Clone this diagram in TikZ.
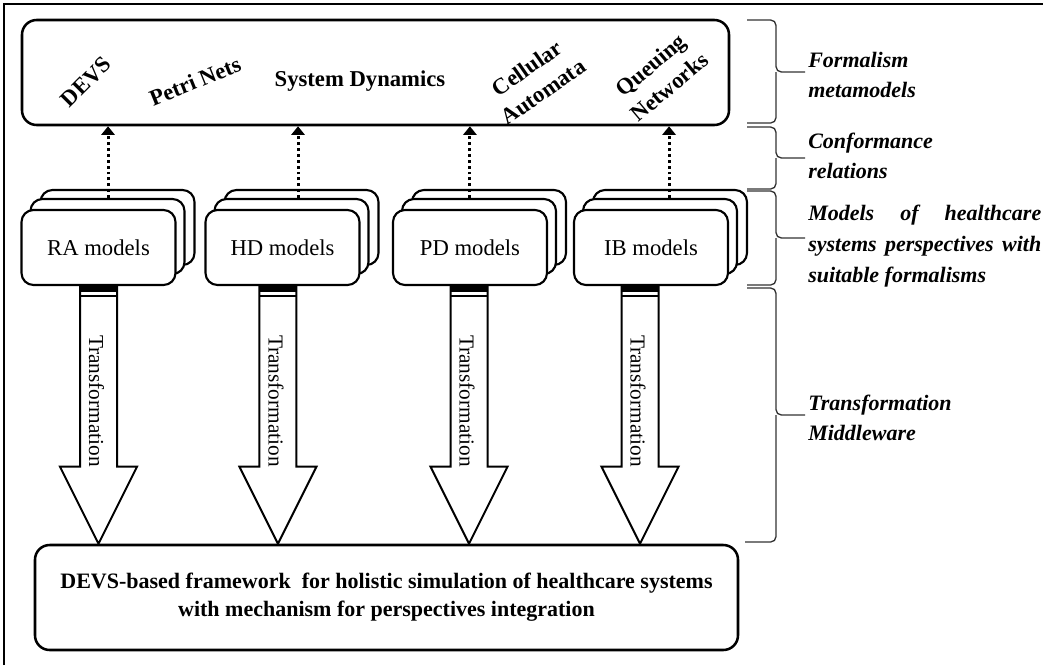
\documentclass[tikz,border=0pt]{standalone}
\usepackage{fontspec}
\setmainfont{Liberation Serif}
\usetikzlibrary{arrows.meta,calc}
\hbadness=10000
\begin{document}
\begin{tikzpicture}[x=0.75pt,y=-0.75pt,
  bigbox/.style={draw, line width=1.9pt, rounded corners=11pt, fill=white, inner sep=0pt},
  stackbox/.style={draw, line width=1.6pt, rounded corners=9pt, fill=white, inner sep=0pt,
    minimum width=154*0.75pt, minimum height=75*0.75pt,
    font=\fontsize{17}{20}\selectfont},
  formal/.style={font=\fontsize{17}{21.5}\selectfont\bfseries, align=center, inner sep=0pt},
  sidelab/.style={font=\fontsize{16.5}{23}\selectfont\bfseries\itshape, align=left, inner sep=0pt, anchor=west},
  bracestyle/.style={draw=black!80, line width=1pt, rounded corners=4pt},
  dotarrow/.style={line width=2.2pt, dash pattern=on 2.2pt off 2.2pt, -{Triangle[width=10pt,length=6.5pt]}},
  tarrow/.style={draw, line width=1.5pt, fill=white, line join=miter},
  trtext/.style={rotate=-90, font=\fontsize{16}{18}\selectfont, inner sep=0pt}
]
\useasboundingbox (0,0) rectangle (1043,665);
% frame
\draw[line width=2.2pt] (4,665) -- (4,4) -- (1043,4);

% top box
\node[bigbox, minimum width=707*0.75pt, minimum height=105*0.75pt] (top) at (375.5,72.5) {};
\node[formal, rotate=45] (devs) at (86,82) {DEVS};
\node[formal, rotate=22] (petri) at (195,81) {Petri Nets};
\node[formal] (sd) at (360,81) {System Dynamics};
\node[formal, rotate=35] (ca) at (535,80) {Cellular\\Automata};
\node[formal, rotate=40] (qn) at (660,76) {Queuing\\Networks};

% model stacks
\foreach \nm/\cx/\lab in {ra/98.5/RA models, hd/282.5/HD models, pd/470/PD models, ib/651/IB models}{
  \node[stackbox] (\nm3) at (\cx+19,227.5) {};
  \node[stackbox] (\nm2) at (\cx+9,236.5) {};
  \node[stackbox] (\nm1) at (\cx,247.5) {\lab};
}

% conformance arrows
\coordinate (ra-d) at ([xshift=0.4pt]ra2.north);
\coordinate (hd-d) at ([xshift=4.9pt]hd2.north);
\coordinate (pd-d) at ([xshift=-6.8pt]pd2.north);
\coordinate (ib-d) at ([xshift=6.8pt]ib2.north);
\foreach \nm in {ra,hd,pd,ib}{
  \draw[dotarrow] (\nm-d) -- (\nm-d |- top.south);
}

% bottom box
\node[bigbox, minimum width=703*0.75pt, minimum height=105*0.75pt,
  font=\fontsize{16.5}{21}\selectfont\bfseries, align=center] (bottom) at (386.5,597.5)
  {DEVS-based framework\ \ for holistic simulation of healthcare systems\\with mechanism for perspectives integration};

% transformation arrows
\coordinate (ra-o) at (ra1.south);
\coordinate (hd-o) at ([xshift=-3.4pt]hd1.south);
\coordinate (pd-o) at ([xshift=-0.75pt]pd1.south);
\coordinate (ib-o) at ([xshift=-8.25pt]ib1.south);
\foreach \nm in {ra,hd,pd,ib}{
  \coordinate (\nm-e) at (\nm-o |- bottom.north);
  \draw[tarrow] ($(\nm-o)+(-18.5,0)$) -- ($(\nm-e)+(-18.5,-77)$) -- ($(\nm-e)+(-38.5,-77)$)
     -- (\nm-e) -- ($(\nm-e)+(38.5,-77)$) -- ($(\nm-e)+(18.5,-77)$) -- ($(\nm-o)+(18.5,0)$) -- cycle;
  \fill ($(\nm-o)+(-18.5,0)$) rectangle ($(\nm-o)+(18.5,6)$);
  \draw[line width=1.2pt] ($(\nm-o)+(-18.5,10)$) -- ($(\nm-o)+(18.5,10)$);
  \node[trtext] (\nm-t) at ($(\nm-o)!0.446!(\nm-e)+(-2,0)$) {Transformation};
}

% braces
\draw[bracestyle] (747,20) -| (776,72) -- (805,72);
\draw[bracestyle] (747,123) -| (776,72);
\draw[bracestyle] (747,127) -| (776,158) -- (805,158);
\draw[bracestyle] (747,189) -| (776,158);
\draw[bracestyle] (747,191) -| (776,238) -- (805,238);
\draw[bracestyle] (747,285) -| (776,238);
\draw[bracestyle] (747,288) -| (776,415) -- (805,415);
\draw[bracestyle] (745,542) -| (776,415);

% side labels
\node[sidelab] (l1) at (808,75) {Formalism\\metamodels};
\node[sidelab] (l2) at (808,156) {Conformance\\relations};
\node[sidelab, text width=233*0.75pt, align=justify] (l3) at (808,246)
  {\hyphenpenalty=10000 Models of healthcare\linebreak systems perspectives with\linebreak suitable formalisms};
\node[sidelab] (l4) at (808,418) {Transformation\\Middleware};
\end{tikzpicture}
\end{document}
